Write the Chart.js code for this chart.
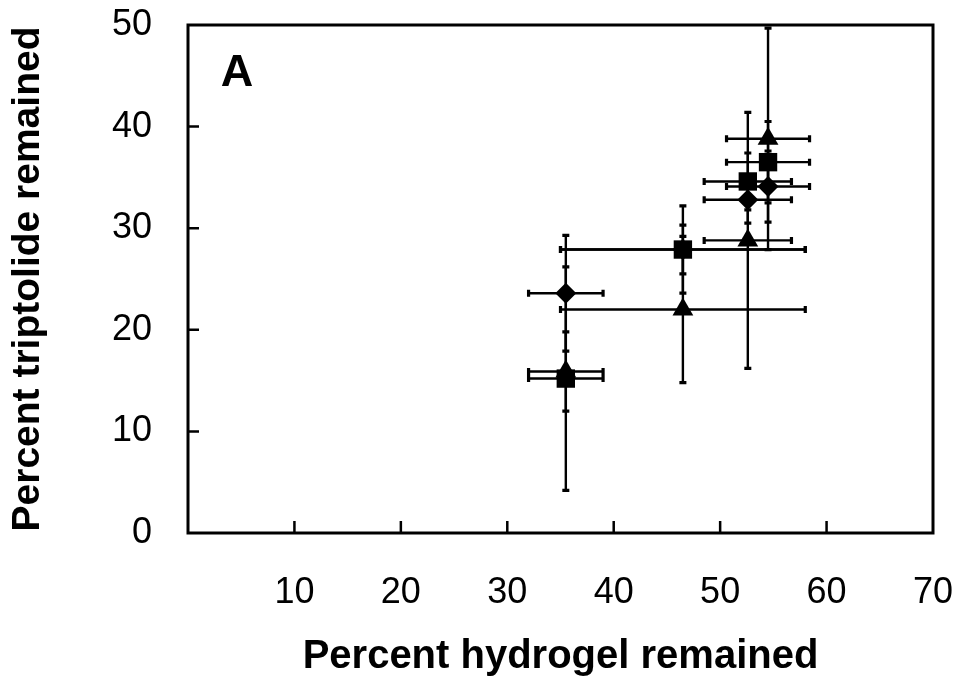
<!DOCTYPE html>
<html>
<head>
<meta charset="utf-8">
<title>Percent triptolide vs hydrogel remained</title>
<script src="https://cdn.jsdelivr.net/npm/chart.js@4/dist/chart.umd.min.js"></script>
<style>
  body { margin: 0; background: #fff; }
  #wrap { width: 961px; height: 681px; }
</style>
</head>
<body>
<div id="wrap"><canvas id="myChart" width="961" height="681"></canvas></div>
<script>
//x values are shared by the three formulations (time points)
let hydrogelX = [35.5, 46.5, 52.6, 54.5];
let hydrogelErr = [3.5, 11.5, 4.1, 3.9];

//squares
let squareY = [15.2, 27.9, 34.6, 36.5];
let squareErr = [11.0, 4.3, 2.8, 4.0];

//diamonds
let diamondY = [23.6, 27.9, 32.8, 34.1];
let diamondErr = [5.7, 2.4, 2.3, 3.5];

//triangles
let triangleY = [15.9, 22.0, 28.8, 38.8];
let triangleErr = [3.9, 7.2, 12.6, 10.9];

let xTicks = [0, 10, 20, 30, 40, 50, 60, 70];
let yTicks = [0, 10, 20, 30, 40, 50];

let panelLabel = "A";
let xTitle = "Percent hydrogel remained";
let yTitle = "Percent triptolide remained";

//builds {x, y, xErr, yErr} points for one series
function makePoints(ys, yErrs) {
  let pts = [];
  for (var i = 0; i < hydrogelX.length; i++) {
    pts.push({ x: hydrogelX[i], y: ys[i], xErr: hydrogelErr[i], yErr: yErrs[i] });
  }
  return pts;
}

let fontFamily = "'Liberation Sans', Arial, sans-serif";

//draws the box, the inner tick marks, the panel letter and the error bars
const framePlugin = {
  id: "frame",
  beforeDatasetsDraw(chart) {
    const ctx = chart.ctx;
    const area = chart.chartArea;
    const xs = chart.scales.x;
    const ys = chart.scales.y;
    ctx.save();
    ctx.strokeStyle = "#000";
    ctx.lineWidth = 3;
    ctx.strokeRect(area.left, area.top, area.right - area.left, area.bottom - area.top);

    //inner ticks
    ctx.lineWidth = 2.5;
    ctx.beginPath();
    xTicks.forEach(function(v) {
      if (v <= 0 || v >= 70) return;
      let px = xs.getPixelForValue(v);
      ctx.moveTo(px, area.bottom);
      ctx.lineTo(px, area.bottom - 12);
    });
    yTicks.forEach(function(v) {
      if (v <= 0 || v >= 50) return;
      let py = ys.getPixelForValue(v);
      ctx.moveTo(area.left, py);
      ctx.lineTo(area.left + 11, py);
    });
    ctx.stroke();

    //panel letter
    ctx.fillStyle = "#000";
    ctx.font = "bold 45px " + fontFamily;
    ctx.textAlign = "center";
    ctx.textBaseline = "middle";
    ctx.fillText(panelLabel, area.left + 49, area.top + 49);

    //error bars
    const cap = 3.5;
    for (var d = chart.data.datasets.length - 1; d >= 0; d--) {
      chart.data.datasets[d].data.forEach(function(p) {
        let cx = xs.getPixelForValue(p.x);
        let cy = ys.getPixelForValue(p.y);
        let x1 = xs.getPixelForValue(p.x - p.xErr);
        let x2 = xs.getPixelForValue(p.x + p.xErr);
        let y1 = ys.getPixelForValue(p.y + p.yErr);
        let y2 = ys.getPixelForValue(p.y - p.yErr);
        ctx.lineWidth = 2.4;
        ctx.beginPath();
        ctx.moveTo(x1, cy); ctx.lineTo(x2, cy);
        ctx.moveTo(cx, y1); ctx.lineTo(cx, y2);
        ctx.stroke();
        ctx.lineWidth = 3.2;
        ctx.beginPath();
        ctx.moveTo(x1, cy - cap); ctx.lineTo(x1, cy + cap);
        ctx.moveTo(x2, cy - cap); ctx.lineTo(x2, cy + cap);
        ctx.moveTo(cx - cap, y1); ctx.lineTo(cx + cap, y1);
        ctx.moveTo(cx - cap, y2); ctx.lineTo(cx + cap, y2);
        ctx.stroke();
      });
    }
    ctx.restore();
  }
};

//keeps the label overflow from shrinking the plot box
function fixPadding(scale) {
  scale.paddingTop = 0;
  scale.paddingBottom = 0;
  scale.paddingLeft = 0;
  scale.paddingRight = 0;
}

let myChart = document.getElementById("myChart").getContext("2d");

let scatterChart = new Chart(myChart, {
  type: "scatter",
  data: {
    datasets: [
      {
        label: "square",
        data: makePoints(squareY, squareErr),
        pointStyle: "rect",
        pointRadius: 13,
        backgroundColor: "#000",
        borderColor: "#000",
        borderWidth: 0
      },
      {
        label: "diamond",
        data: makePoints(diamondY, diamondErr),
        pointStyle: "rectRot",
        pointRadius: 10.5,
        backgroundColor: "#000",
        borderColor: "#000",
        borderWidth: 0
      },
      {
        label: "triangle",
        data: makePoints(triangleY, triangleErr),
        pointStyle: "triangle",
        pointRadius: 12,
        backgroundColor: "#000",
        borderColor: "#000",
        borderWidth: 0
      }
    ]
  },
  options: {
    responsive: false,
    animation: false,
    devicePixelRatio: 1,
    layout: { padding: { top: 25, right: 28, left: 0, bottom: 0 } },
    plugins: {
      legend: { display: false },
      tooltip: { enabled: false }
    },
    scales: {
      x: {
        type: "linear",
        min: 0,
        max: 70,
        afterBuildTicks: function(scale) {
          scale.ticks = xTicks.map(function(v) { return { value: v }; });
        },
        afterFit: function(scale) {
          scale.height = 148;
          fixPadding(scale);
        },
        grid: { display: false, drawTicks: false },
        border: { display: false },
        ticks: {
          padding: 38,
          color: "#000",
          font: { family: fontFamily, size: 36 },
          callback: function(v) { return v === 0 ? "" : String(v); }
        },
        title: {
          display: true,
          text: xTitle,
          color: "#000",
          font: { family: fontFamily, size: 40, weight: "bold" },
          padding: { top: 0, bottom: 0 }
        }
      },
      y: {
        type: "linear",
        min: 0,
        max: 50,
        afterBuildTicks: function(scale) {
          scale.ticks = yTicks.map(function(v) { return { value: v }; });
        },
        afterFit: function(scale) {
          scale.width = 188;
          fixPadding(scale);
        },
        grid: { display: false, drawTicks: false },
        border: { display: false },
        ticks: {
          padding: 36,
          color: "#000",
          font: { family: fontFamily, size: 36 }
        },
        title: {
          display: true,
          text: yTitle,
          color: "#000",
          font: { family: fontFamily, size: 39, weight: "bold" },
          padding: { top: 5, bottom: 0 }
        }
      }
    }
  },
  plugins: [framePlugin]
});
</script>
</body>
</html>
